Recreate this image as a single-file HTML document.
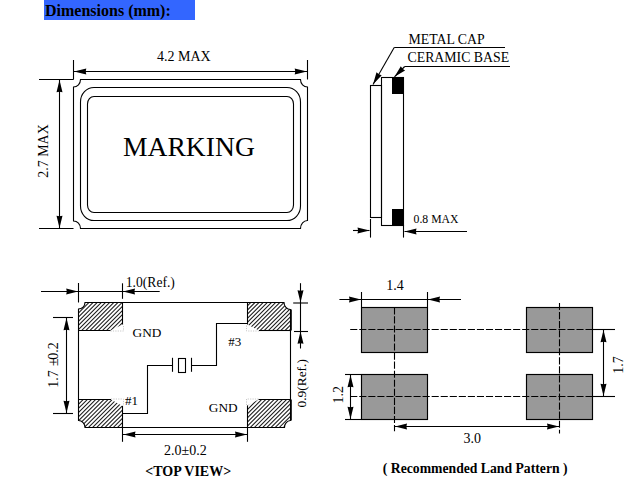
<!DOCTYPE html>
<html><head><meta charset="utf-8"><style>
html,body{margin:0;padding:0;background:#fff;width:643px;height:498px;overflow:hidden}
#hdr{position:absolute;left:44px;top:0;width:151px;height:20px;background:#3366ff}
#hdr span{position:absolute;left:1px;top:1px;font:bold 16px "Liberation Serif",serif;line-height:20px;white-space:nowrap;color:#000}
svg{position:absolute;left:0;top:0}
svg text{font-family:"Liberation Serif",serif;fill:#000;stroke:none}
</style></head><body>
<div id="hdr"><span>Dimensions (mm):</span></div>
<svg width="643" height="498" viewBox="0 0 643 498" stroke="#000" fill="none">
<path d="M80.5,79.5 L300.5,79.5 A7,7.5 0 0 0 307.5,87 L307.5,220.5 A7,8 0 0 0 300.5,228.5 L80.5,228.5 A7,7.5 0 0 0 73.5,221 L73.5,87 A7,7.5 0 0 0 80.5,79.5 Z" fill="none" stroke-width="1.1"/>
<rect x="80.5" y="87.5" width="220" height="133" rx="13.5" ry="14.5" fill="none" stroke-width="1.1"/>
<rect x="87.5" y="96.5" width="206" height="116" rx="6.5" ry="7.5" fill="none" stroke-width="1.1"/>
<line x1="73.5" y1="60" x2="73.5" y2="79.5" stroke-width="1.1" />
<line x1="307.5" y1="60" x2="307.5" y2="79.5" stroke-width="1.1" />
<line x1="74" y1="71.5" x2="307" y2="71.5" stroke-width="1.1" />
<polygon points="74.00,71.50 86.30,68.50 85.70,71.50 86.30,74.50" fill="#000" stroke="none"/>
<polygon points="307.00,71.50 294.70,74.50 295.30,71.50 294.70,68.50" fill="#000" stroke="none"/>
<line x1="39" y1="79.5" x2="73.5" y2="79.5" stroke-width="1.1" />
<line x1="39" y1="228.5" x2="73.5" y2="228.5" stroke-width="1.1" />
<line x1="59.5" y1="80" x2="59.5" y2="228" stroke-width="1.1" />
<polygon points="59.50,80.00 62.50,92.30 59.50,91.70 56.50,92.30" fill="#000" stroke="none"/>
<polygon points="59.50,228.00 56.50,215.70 59.50,216.30 62.50,215.70" fill="#000" stroke="none"/>
<text x="157" y="60.7" font-size="14" font-weight="normal" text-anchor="start" >4.2 MAX</text>
<text transform="translate(48,151) rotate(-90)" x="0" y="0" font-size="14" text-anchor="middle" >2.7 MAX</text>
<text x="123" y="156" font-size="27.6" font-weight="normal" text-anchor="start" >MARKING</text>
<rect x="370.5" y="85.5" width="11" height="132" fill="none" stroke-width="1.1"/>
<rect x="381.5" y="77.5" width="22" height="148" fill="none" stroke-width="1.1"/>
<rect x="392" y="77" width="12" height="17" fill="#000" stroke="none"/>
<rect x="392" y="209" width="12" height="17" fill="#000" stroke="none"/>
<line x1="373" y1="84.5" x2="394.2" y2="47.5" stroke-width="1.1" />
<line x1="394.2" y1="47.5" x2="505" y2="47.5" stroke-width="1.1" />
<polygon points="373.00,84.50 376.51,72.34 378.82,74.35 381.72,75.32" fill="#000" stroke="none"/>
<line x1="394.5" y1="76.8" x2="404.7" y2="66.5" stroke-width="1.1" />
<line x1="404.7" y1="66.5" x2="510" y2="66.5" stroke-width="1.1" />
<polygon points="394.50,76.80 400.81,66.16 402.52,68.70 405.08,70.38" fill="#000" stroke="none"/>
<text x="408.5" y="44.1" font-size="13.8" font-weight="normal" text-anchor="start" >METAL CAP</text>
<text x="407.5" y="62" font-size="13.8" font-weight="normal" text-anchor="start" >CERAMIC BASE</text>
<line x1="370.5" y1="219" x2="370.5" y2="237.6" stroke-width="1.1" />
<line x1="403.5" y1="225" x2="403.5" y2="237.6" stroke-width="1.1" />
<line x1="353" y1="230.5" x2="369.5" y2="230.5" stroke-width="1.1" />
<polygon points="369.50,230.50 357.50,233.50 358.10,230.50 357.50,227.50" fill="#000" stroke="none"/>
<line x1="404.5" y1="231.5" x2="467" y2="231.5" stroke-width="1.1" />
<polygon points="404.50,231.50 416.50,228.50 415.90,231.50 416.50,234.50" fill="#000" stroke="none"/>
<text x="413.6" y="223" font-size="11.7" font-weight="normal" text-anchor="start" >0.8 MAX</text>
<defs><clipPath id="bodyclip"><path d="M85,302.5 L284,302.5 A6.5,7 0 0 0 290.5,309.5 L290.5,420.5 A6.5,7 0 0 0 284.5,427.5 L85,427.5 A6.5,7 0 0 0 78.5,420.5 L78.5,309 A6.5,6.5 0 0 0 85,302.5 Z"/></clipPath><clipPath id="ctl"><polygon points="78.5,302.5 122.5,302.5 122.5,324.5 110.5,330.5 78.5,330.5"/></clipPath><clipPath id="ctr"><polygon points="247.5,302.5 291,302.5 291,330.5 259,330.5 247.5,324.5"/></clipPath><clipPath id="cbl"><polygon points="78.5,399.5 111,399.5 122.5,405.9 122.5,427.5 78.5,427.5"/></clipPath><clipPath id="cbr"><polygon points="258.5,399.5 291,399.5 291,427.5 247.5,427.5 247.5,405.5"/></clipPath></defs>
<g clip-path="url(#bodyclip)">
<g clip-path="url(#ctl)" stroke="#1a1a1a" stroke-width="1.05">
<line x1="48.50" y1="330.45" x2="152.50" y2="226.45"/>
<line x1="48.50" y1="334.60" x2="152.50" y2="230.60"/>
<line x1="48.50" y1="338.75" x2="152.50" y2="234.75"/>
<line x1="48.50" y1="342.90" x2="152.50" y2="238.90"/>
<line x1="48.50" y1="347.05" x2="152.50" y2="243.05"/>
<line x1="48.50" y1="351.20" x2="152.50" y2="247.20"/>
<line x1="48.50" y1="355.35" x2="152.50" y2="251.35"/>
<line x1="48.50" y1="359.50" x2="152.50" y2="255.50"/>
<line x1="48.50" y1="363.65" x2="152.50" y2="259.65"/>
<line x1="48.50" y1="367.80" x2="152.50" y2="263.80"/>
<line x1="48.50" y1="371.95" x2="152.50" y2="267.95"/>
<line x1="48.50" y1="376.10" x2="152.50" y2="272.10"/>
<line x1="48.50" y1="380.25" x2="152.50" y2="276.25"/>
<line x1="48.50" y1="384.40" x2="152.50" y2="280.40"/>
<line x1="48.50" y1="388.55" x2="152.50" y2="284.55"/>
<line x1="48.50" y1="392.70" x2="152.50" y2="288.70"/>
<line x1="48.50" y1="396.85" x2="152.50" y2="292.85"/>
<line x1="48.50" y1="401.00" x2="152.50" y2="297.00"/>
<line x1="48.50" y1="405.15" x2="152.50" y2="301.15"/>
</g>
<g clip-path="url(#ctr)" stroke="#1a1a1a" stroke-width="1.05">
<line x1="217.50" y1="331.60" x2="321.00" y2="228.10"/>
<line x1="217.50" y1="335.75" x2="321.00" y2="232.25"/>
<line x1="217.50" y1="339.90" x2="321.00" y2="236.40"/>
<line x1="217.50" y1="344.05" x2="321.00" y2="240.55"/>
<line x1="217.50" y1="348.20" x2="321.00" y2="244.70"/>
<line x1="217.50" y1="352.35" x2="321.00" y2="248.85"/>
<line x1="217.50" y1="356.50" x2="321.00" y2="253.00"/>
<line x1="217.50" y1="360.65" x2="321.00" y2="257.15"/>
<line x1="217.50" y1="364.80" x2="321.00" y2="261.30"/>
<line x1="217.50" y1="368.95" x2="321.00" y2="265.45"/>
<line x1="217.50" y1="373.10" x2="321.00" y2="269.60"/>
<line x1="217.50" y1="377.25" x2="321.00" y2="273.75"/>
<line x1="217.50" y1="381.40" x2="321.00" y2="277.90"/>
<line x1="217.50" y1="385.55" x2="321.00" y2="282.05"/>
<line x1="217.50" y1="389.70" x2="321.00" y2="286.20"/>
<line x1="217.50" y1="393.85" x2="321.00" y2="290.35"/>
<line x1="217.50" y1="398.00" x2="321.00" y2="294.50"/>
<line x1="217.50" y1="402.15" x2="321.00" y2="298.65"/>
<line x1="217.50" y1="406.30" x2="321.00" y2="302.80"/>
</g>
<g clip-path="url(#cbl)" stroke="#1a1a1a" stroke-width="1.05">
<line x1="48.50" y1="430.05" x2="152.50" y2="326.05"/>
<line x1="48.50" y1="434.20" x2="152.50" y2="330.20"/>
<line x1="48.50" y1="438.35" x2="152.50" y2="334.35"/>
<line x1="48.50" y1="442.50" x2="152.50" y2="338.50"/>
<line x1="48.50" y1="446.65" x2="152.50" y2="342.65"/>
<line x1="48.50" y1="450.80" x2="152.50" y2="346.80"/>
<line x1="48.50" y1="454.95" x2="152.50" y2="350.95"/>
<line x1="48.50" y1="459.10" x2="152.50" y2="355.10"/>
<line x1="48.50" y1="463.25" x2="152.50" y2="359.25"/>
<line x1="48.50" y1="467.40" x2="152.50" y2="363.40"/>
<line x1="48.50" y1="471.55" x2="152.50" y2="367.55"/>
<line x1="48.50" y1="475.70" x2="152.50" y2="371.70"/>
<line x1="48.50" y1="479.85" x2="152.50" y2="375.85"/>
<line x1="48.50" y1="484.00" x2="152.50" y2="380.00"/>
<line x1="48.50" y1="488.15" x2="152.50" y2="384.15"/>
<line x1="48.50" y1="492.30" x2="152.50" y2="388.30"/>
<line x1="48.50" y1="496.45" x2="152.50" y2="392.45"/>
<line x1="48.50" y1="500.60" x2="152.50" y2="396.60"/>
<line x1="48.50" y1="504.75" x2="152.50" y2="400.75"/>
</g>
<g clip-path="url(#cbr)" stroke="#1a1a1a" stroke-width="1.05">
<line x1="217.50" y1="427.05" x2="321.00" y2="323.55"/>
<line x1="217.50" y1="431.20" x2="321.00" y2="327.70"/>
<line x1="217.50" y1="435.35" x2="321.00" y2="331.85"/>
<line x1="217.50" y1="439.50" x2="321.00" y2="336.00"/>
<line x1="217.50" y1="443.65" x2="321.00" y2="340.15"/>
<line x1="217.50" y1="447.80" x2="321.00" y2="344.30"/>
<line x1="217.50" y1="451.95" x2="321.00" y2="348.45"/>
<line x1="217.50" y1="456.10" x2="321.00" y2="352.60"/>
<line x1="217.50" y1="460.25" x2="321.00" y2="356.75"/>
<line x1="217.50" y1="464.40" x2="321.00" y2="360.90"/>
<line x1="217.50" y1="468.55" x2="321.00" y2="365.05"/>
<line x1="217.50" y1="472.70" x2="321.00" y2="369.20"/>
<line x1="217.50" y1="476.85" x2="321.00" y2="373.35"/>
<line x1="217.50" y1="481.00" x2="321.00" y2="377.50"/>
<line x1="217.50" y1="485.15" x2="321.00" y2="381.65"/>
<line x1="217.50" y1="489.30" x2="321.00" y2="385.80"/>
<line x1="217.50" y1="493.45" x2="321.00" y2="389.95"/>
<line x1="217.50" y1="497.60" x2="321.00" y2="394.10"/>
<line x1="217.50" y1="501.75" x2="321.00" y2="398.25"/>
</g>
</g>
<path d="M85,302.5 L284,302.5 A6.5,7 0 0 0 290.5,309.5 L290.5,420.5 A6.5,7 0 0 0 284.5,427.5 L85,427.5 A6.5,7 0 0 0 78.5,420.5 L78.5,309 A6.5,6.5 0 0 0 85,302.5 Z" fill="none" stroke-width="1.1"/>
<line x1="78.5" y1="330.5" x2="110.5" y2="330.5" stroke-width="1.1" />
<line x1="122.5" y1="302.5" x2="122.5" y2="324.5" stroke-width="1.1" />
<line x1="247.5" y1="302.5" x2="247.5" y2="324.5" stroke-width="1.1" />
<line x1="259" y1="330.5" x2="291" y2="330.5" stroke-width="1.1" />
<line x1="78.5" y1="399.5" x2="111" y2="399.5" stroke-width="1.1" />
<line x1="122.5" y1="405.9" x2="122.5" y2="427.5" stroke-width="1.1" />
<line x1="247.5" y1="405.5" x2="247.5" y2="427.5" stroke-width="1.1" />
<line x1="258.5" y1="399.5" x2="291" y2="399.5" stroke-width="1.1" />
<line x1="290.9" y1="309.5" x2="290.9" y2="330.5" stroke-width="1.8" />
<line x1="290.9" y1="399.5" x2="290.9" y2="420.5" stroke-width="1.8" />
<polyline points="110.5,331 123.5,331 123.5,324.5" stroke="#c8c8c8" stroke-dasharray="1.2,1.2" stroke-width="1" fill="none"/>
<polyline points="259,331 246.5,331 246.5,324.5" stroke="#c8c8c8" stroke-dasharray="1.2,1.2" stroke-width="1" fill="none"/>
<polyline points="111,399 123.5,399 123.5,405.9" stroke="#c8c8c8" stroke-dasharray="1.2,1.2" stroke-width="1" fill="none"/>
<polyline points="258.5,399 246.5,399 246.5,405.5" stroke="#c8c8c8" stroke-dasharray="1.2,1.2" stroke-width="1" fill="none"/>
<polyline points="247.5,323.5 216.5,323.5 216.5,365.5 191.5,365.5" fill="none" stroke-width="1.1"/>
<polyline points="172.5,365.5 147.5,365.5 147.5,413.5 122.5,413.5" fill="none" stroke-width="1.1"/>
<line x1="191.5" y1="357.8" x2="191.5" y2="371.8" stroke-width="1.1" />
<line x1="172.5" y1="357.8" x2="172.5" y2="371.8" stroke-width="1.1" />
<rect x="178.5" y="358.5" width="7" height="14" fill="none" stroke-width="1.1"/>
<text x="132.6" y="336.6" font-size="13.3" font-weight="normal" text-anchor="start" >GND</text>
<text x="228.2" y="345.9" font-size="13" font-weight="normal" text-anchor="start" >#3</text>
<text x="124.9" y="404.5" font-size="13" font-weight="normal" text-anchor="start" >#1</text>
<text x="208.8" y="412" font-size="13.3" font-weight="normal" text-anchor="start" >GND</text>
<line x1="41" y1="291.5" x2="159.7" y2="291.5" stroke-width="1.1" />
<polygon points="78.00,291.50 66.20,294.50 66.80,291.50 66.20,288.50" fill="#000" stroke="none"/>
<line x1="78.5" y1="283" x2="78.5" y2="302.5" stroke-width="1.1" />
<line x1="122.5" y1="283.3" x2="122.5" y2="298.8" stroke-width="1.1" />
<polygon points="123.00,291.50 135.00,288.50 134.40,291.50 135.00,294.50" fill="#000" stroke="none"/>
<text x="125.8" y="286.8" font-size="13.6" font-weight="normal" text-anchor="start" >1.0(Ref.)</text>
<line x1="53" y1="317.5" x2="73" y2="317.5" stroke-width="1.1" />
<line x1="53" y1="413.5" x2="73" y2="413.5" stroke-width="1.1" />
<line x1="66.5" y1="318" x2="66.5" y2="413" stroke-width="1.1" />
<polygon points="66.50,318.00 69.50,330.30 66.50,329.70 63.50,330.30" fill="#000" stroke="none"/>
<polygon points="66.50,413.00 63.50,400.70 66.50,401.30 69.50,400.70" fill="#000" stroke="none"/>
<text transform="translate(57.7,387.85) rotate(-90)" font-size="14"><tspan x="0" y="0">1.7</tspan><tspan x="21.8" y="0">±</tspan><tspan x="28" y="0">0.2</tspan></text>
<line x1="300.5" y1="283.2" x2="300.5" y2="348.5" stroke-width="1.1" />
<polygon points="300.50,302.50 297.50,290.20 300.50,290.80 303.50,290.20" fill="#000" stroke="none"/>
<line x1="293.2" y1="303" x2="308" y2="303" stroke-width="1.1" />
<line x1="294" y1="331.5" x2="308" y2="331.5" stroke-width="1.1" />
<polygon points="300.50,331.50 303.50,343.80 300.50,343.20 297.50,343.80" fill="#000" stroke="none"/>
<text transform="translate(306,383.3) rotate(-90)" x="0" y="0" font-size="13.4" text-anchor="middle" >0.9(Ref.)</text>
<line x1="122.5" y1="427.5" x2="122.5" y2="441.8" stroke-width="1.1" />
<line x1="247.5" y1="427.5" x2="247.5" y2="441.8" stroke-width="1.1" />
<line x1="122.5" y1="434.5" x2="247.5" y2="434.5" stroke-width="1.1" />
<polygon points="123.50,434.50 135.50,431.50 134.90,434.50 135.50,437.50" fill="#000" stroke="none"/>
<polygon points="247.00,434.50 235.00,437.50 235.60,434.50 235.00,431.50" fill="#000" stroke="none"/>
<text x="164" y="454.9" font-size="14" font-weight="normal" text-anchor="start" >2.0±0.2</text>
<text x="145.3" y="476.3" font-size="14" font-weight="bold" text-anchor="start" >&lt;TOP VIEW&gt;</text>
<rect x="361.5" y="307.5" width="66.0" height="45.0" fill="#999999" stroke-width="1.15"/>
<rect x="361.5" y="374.5" width="66.0" height="45.0" fill="#999999" stroke-width="1.15"/>
<rect x="526.5" y="307.5" width="66.0" height="45.0" fill="#999999" stroke-width="1.15"/>
<rect x="526.5" y="374.5" width="66.0" height="45.0" fill="#999999" stroke-width="1.15"/>
<line x1="350.2" y1="329.5" x2="592.5" y2="329.5" stroke-width="1.1" stroke-dasharray="7.1,1.95"/>
<line x1="592.5" y1="329.5" x2="615" y2="329.5" stroke-width="1.1" />
<line x1="350.2" y1="396.5" x2="592.5" y2="396.5" stroke-width="1.1" stroke-dasharray="7.1,1.95"/>
<line x1="592.5" y1="396.5" x2="615" y2="396.5" stroke-width="1.1" />
<line x1="394.5" y1="307.3" x2="394.5" y2="431.3" stroke-width="1.1" stroke-dasharray="7.1,1.95"/>
<line x1="559.5" y1="303" x2="559.5" y2="433.5" stroke-width="1.1" stroke-dasharray="7.1,1.95"/>
<line x1="361.5" y1="292" x2="361.5" y2="307.5" stroke-width="1.1" />
<line x1="427.5" y1="292" x2="427.5" y2="307.5" stroke-width="1.1" />
<line x1="339.4" y1="299.5" x2="461" y2="299.5" stroke-width="1.1" />
<polygon points="361.00,299.50 349.00,302.50 349.60,299.50 349.00,296.50" fill="#000" stroke="none"/>
<polygon points="428.00,299.50 440.00,296.50 439.40,299.50 440.00,302.50" fill="#000" stroke="none"/>
<text x="386.2" y="290.2" font-size="14" font-weight="normal" text-anchor="start" >1.4</text>
<line x1="345" y1="374.5" x2="361.5" y2="374.5" stroke-width="1.1" />
<line x1="345" y1="419.5" x2="361.5" y2="419.5" stroke-width="1.1" />
<line x1="350.5" y1="375" x2="350.5" y2="419" stroke-width="1.1" />
<polygon points="350.50,375.00 353.50,387.30 350.50,386.70 347.50,387.30" fill="#000" stroke="none"/>
<polygon points="350.50,419.00 347.50,406.70 350.50,407.30 353.50,406.70" fill="#000" stroke="none"/>
<text transform="translate(343,394.7) rotate(-90)" x="0" y="0" font-size="14" text-anchor="middle" >1.2</text>
<line x1="603.5" y1="330" x2="603.5" y2="396" stroke-width="1.1" />
<polygon points="603.50,330.00 606.50,342.30 603.50,341.70 600.50,342.30" fill="#000" stroke="none"/>
<polygon points="603.50,396.00 600.50,383.70 603.50,384.30 606.50,383.70" fill="#000" stroke="none"/>
<text transform="translate(623,365.1) rotate(-90)" x="0" y="0" font-size="14" text-anchor="middle" >1.7</text>
<line x1="394.5" y1="426.5" x2="559.5" y2="426.5" stroke-width="1.1" />
<polygon points="395.00,426.50 407.00,423.50 406.40,426.50 407.00,429.50" fill="#000" stroke="none"/>
<polygon points="559.00,426.50 547.00,429.50 547.60,426.50 547.00,423.50" fill="#000" stroke="none"/>
<text x="463.4" y="443.3" font-size="14" font-weight="normal" text-anchor="start" >3.0</text>
<text x="382.8" y="473" font-size="13.7" font-weight="bold" text-anchor="start" >( Recommended Land Pattern )</text>
</svg>
</body></html>
